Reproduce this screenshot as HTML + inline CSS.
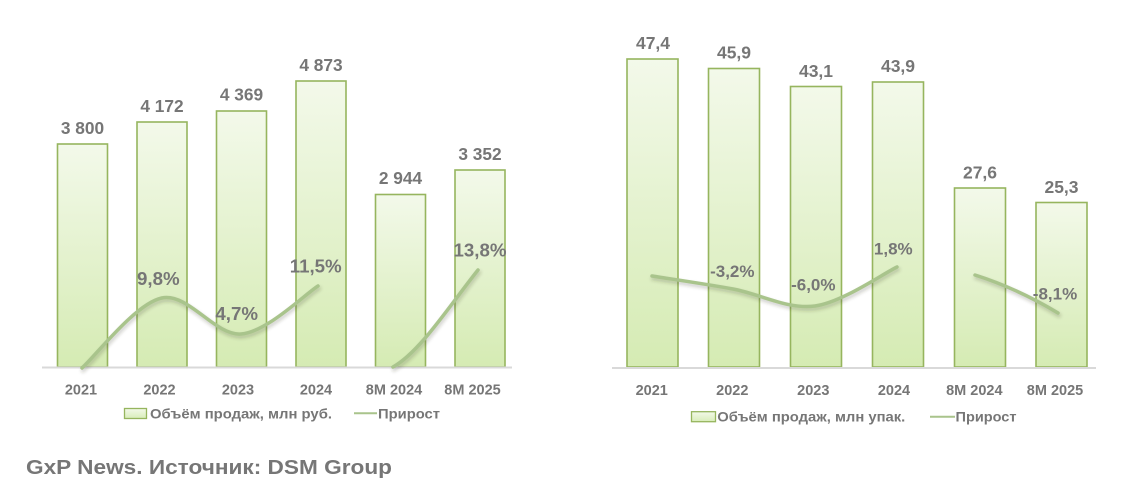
<!DOCTYPE html>
<html><head><meta charset="utf-8">
<style>
html,body{margin:0;padding:0;background:#fff;}
svg{display:block;}
text{font-family:"Liberation Sans","DejaVu Sans",sans-serif;font-weight:bold;fill:#767676;}
</style></head>
<body>
<svg width="1148" height="497" viewBox="0 0 1148 497" xmlns="http://www.w3.org/2000/svg">
<defs>
<linearGradient id="g" x1="0" y1="0" x2="0" y2="1">
<stop offset="0" stop-color="#f3f9ea"/>
<stop offset="1" stop-color="#d5ebb3"/>
</linearGradient>
<linearGradient id="gl" x1="0" y1="0" x2="0" y2="1">
<stop offset="0" stop-color="#f3f9ea"/>
<stop offset="1" stop-color="#d8edb9"/>
</linearGradient>
<filter id="sh" x="-10%" y="-10%" width="120%" height="130%">
<feGaussianBlur stdDeviation="1.6"/>
</filter>
</defs>

<!-- LEFT CHART -->
<g stroke="#96b55e" stroke-width="1.6" fill="url(#g)">
<rect x="57.5" y="144" width="50" height="223"/>
<rect x="137" y="122" width="50" height="245"/>
<rect x="216.5" y="111" width="50" height="256"/>
<rect x="296" y="81" width="50" height="286"/>
<rect x="375.5" y="194.5" width="50" height="172.5"/>
<rect x="455" y="170" width="50" height="197"/>
</g>
<line x1="42" y1="367.5" x2="512" y2="367.5" stroke="#d9d9d9" stroke-width="2"/>

<g font-size="17.3" text-anchor="middle">
<text x="82.5" y="134.2">3 800</text>
<text x="162" y="112.2">4 172</text>
<text x="241.5" y="100.4">4 369</text>
<text x="321" y="71.2">4 873</text>
<text x="400.5" y="184.2">2 944</text>
<text x="480" y="160.2">3 352</text>
</g>

<!-- left growth line -->
<g fill="none" stroke-linecap="round">
<path d="M82,368 C95.3,356.3 135.2,303.7 161.7,298 C188.2,292.3 215,336 241,334 C267,332 305.2,294 318,286" stroke="rgba(60,60,40,0.22)" stroke-width="4" transform="translate(1,2.5)" filter="url(#sh)"/>
<path d="M393,367 C420,352 450,305 478,270" stroke="rgba(60,60,40,0.22)" stroke-width="4" transform="translate(1,2.5)" filter="url(#sh)"/>
<path d="M82,368 C95.3,356.3 135.2,303.7 161.7,298 C188.2,292.3 215,336 241,334 C267,332 305.2,294 318,286" stroke="#a9c48c" stroke-width="3.5"/>
<path d="M393,367 C420,352 450,305 478,270" stroke="#a9c48c" stroke-width="3.5"/>
</g>

<g font-size="18.7" text-anchor="middle">
<text x="158.3" y="285">9,8%</text>
<text x="236.7" y="320">4,7%</text>
<text x="315.7" y="272.4">11,5%</text>
<text x="480" y="256.7">13,8%</text>
</g>

<g font-size="14.5" text-anchor="middle">
<text x="81" y="394.5">2021</text>
<text x="159.5" y="394.5">2022</text>
<text x="238" y="394.5">2023</text>
<text x="316" y="394.5">2024</text>
<text x="394" y="394.5">8M 2024</text>
<text x="472.5" y="394.5">8M 2025</text>
</g>

<!-- left legend -->
<rect x="124.5" y="408.5" width="22" height="10" fill="url(#gl)" stroke="#96b55e" stroke-width="1.3"/>
<text x="150" y="418.3" font-size="13.5" textLength="182" lengthAdjust="spacingAndGlyphs">Объём продаж, млн руб.</text>
<line x1="354" y1="413.3" x2="377" y2="413.3" stroke="#a9c48c" stroke-width="2"/>
<text x="378" y="418.3" font-size="13.5" textLength="62" lengthAdjust="spacingAndGlyphs">Прирост</text>

<!-- RIGHT CHART -->
<g stroke="#96b55e" stroke-width="1.6" fill="url(#g)">
<rect x="627" y="59" width="51" height="308"/>
<rect x="708.5" y="68.5" width="51" height="298.5"/>
<rect x="790.5" y="86.5" width="51" height="280.5"/>
<rect x="872.5" y="82" width="51" height="285"/>
<rect x="954.5" y="188" width="51" height="179"/>
<rect x="1036" y="202.5" width="51" height="164.5"/>
</g>
<line x1="612" y1="368" x2="1096" y2="368" stroke="#d9d9d9" stroke-width="2"/>

<g font-size="17.5" text-anchor="middle">
<text x="653" y="49.2">47,4</text>
<text x="734" y="58.5">45,9</text>
<text x="816" y="76.9">43,1</text>
<text x="898" y="71.9">43,9</text>
<text x="980" y="178.5">27,6</text>
<text x="1061.5" y="192.9">25,3</text>
</g>

<g fill="none" stroke-linecap="round">
<path d="M652,276 C665.5,278.2 705.8,284 733,289 C760.2,294 787.7,309.7 815,306 C842.3,302.3 883.3,273.5 897,267" stroke="rgba(60,60,40,0.22)" stroke-width="4" transform="translate(1,2.5)" filter="url(#sh)"/>
<path d="M975,275 C1000,283 1030,296 1058,313" stroke="rgba(60,60,40,0.22)" stroke-width="4" transform="translate(1,2.5)" filter="url(#sh)"/>
<path d="M652,276 C665.5,278.2 705.8,284 733,289 C760.2,294 787.7,309.7 815,306 C842.3,302.3 883.3,273.5 897,267" stroke="#a9c48c" stroke-width="3.5"/>
<path d="M975,275 C1000,283 1030,296 1058,313" stroke="#a9c48c" stroke-width="3.5"/>
</g>

<g font-size="17" text-anchor="middle">
<text x="732.3" y="276.8">-3,2%</text>
<text x="813.3" y="290.4">-6,0%</text>
<text x="893.3" y="254.4">1,8%</text>
<text x="1055" y="299.4">-8,1%</text>
</g>

<g font-size="14.5" text-anchor="middle">
<text x="651.7" y="395.2">2021</text>
<text x="732.3" y="395.2">2022</text>
<text x="813.3" y="395.2">2023</text>
<text x="894" y="395.2">2024</text>
<text x="974.3" y="395.2">8M 2024</text>
<text x="1055" y="395.2">8M 2025</text>
</g>

<!-- right legend -->
<rect x="691.5" y="411.7" width="24" height="10" fill="url(#gl)" stroke="#96b55e" stroke-width="1.3"/>
<text x="717.3" y="421.6" font-size="13.5" textLength="188" lengthAdjust="spacingAndGlyphs">Объём продаж, млн упак.</text>
<line x1="930" y1="416.7" x2="955" y2="416.7" stroke="#a9c48c" stroke-width="2"/>
<text x="955.5" y="421.6" font-size="13.5" textLength="61" lengthAdjust="spacingAndGlyphs">Прирост</text>

<!-- footer -->
<text x="26" y="474" font-size="20.5" fill="#7a7a7a" textLength="366" lengthAdjust="spacingAndGlyphs">GxP News. Источник: DSM Group</text>
</svg>
</body></html>
